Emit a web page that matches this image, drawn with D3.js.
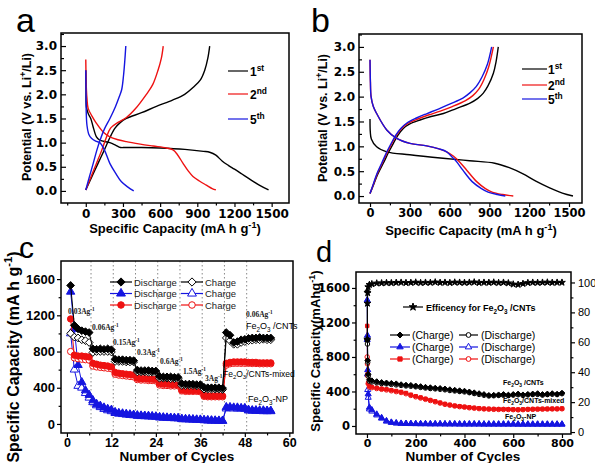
<!DOCTYPE html>
<html>
<head>
<meta charset="utf-8">
<script src="https://cdn.jsdelivr.net/npm/d3@7"></script>
<style>
  body { margin: 0; background: #fff; }
  svg { display: block; }
</style>
</head>
<body>
<svg id="fig" width="595" height="463"></svg>
<script>
// ---------- data: panel a (Fe2O3/CNTs voltage profiles) ----------
const aCap1D = [0, 2, 5, 20, 40, 59, 86, 113, 194, 240, 280, 320, 450, 600, 800, 950, 1000, 1050, 1100, 1150, 1200, 1260, 1320, 1400, 1475];
const aV1D   = [2.5, 2.1, 1.74, 1.6, 1.5, 1.33, 1.12, 1.05, 1.0, 0.95, 0.9, 0.9, 0.9, 0.89, 0.86, 0.82, 0.8, 0.74, 0.62, 0.53, 0.45, 0.35, 0.25, 0.12, 0.02];
const aCap1C = [0, 50, 99, 150, 194, 236, 280, 328, 450, 570, 700, 798, 870, 925, 960, 985, 1000];
const aV1C   = [0.02, 0.3, 0.57, 0.85, 1.1, 1.3, 1.42, 1.5, 1.62, 1.75, 1.88, 2.0, 2.15, 2.3, 2.5, 2.75, 3.0];
const aCap2D = [0, 2, 5, 10, 19, 50, 86, 140, 194, 260, 328, 440, 543, 650, 704, 740, 785, 825, 865, 920, 973, 1020, 1050];
const aV2D   = [2.72, 2.4, 2.1, 1.9, 1.71, 1.55, 1.4, 1.22, 1.12, 1.06, 1.02, 0.97, 0.93, 0.89, 0.85, 0.75, 0.57, 0.42, 0.3, 0.2, 0.12, 0.05, 0.02];
const aCap2C = [0, 40, 86, 130, 165, 200, 260, 328, 400, 489, 540, 583, 610, 625];
const aV2C   = [0.02, 0.28, 0.57, 0.85, 1.1, 1.3, 1.42, 1.52, 1.7, 2.0, 2.2, 2.5, 2.75, 3.0];
const aCap5D = [0, 2, 4, 10, 25, 46, 80, 113, 150, 194, 240, 288, 340, 387];
const aV5D   = [2.5, 2.0, 1.6, 1.35, 1.17, 1.09, 1.03, 1.0, 0.85, 0.57, 0.37, 0.19, 0.08, 0.0];
const aCap5C = [0, 30, 60, 90, 115, 150, 195, 240, 270, 290, 305, 315, 323];
const aV5C   = [0.02, 0.3, 0.57, 0.85, 1.05, 1.28, 1.5, 1.75, 1.95, 2.1, 2.4, 2.7, 3.0];

// ---------- data: panel b ----------
const bCap1D = [0, 2, 10, 50, 126, 300, 550, 750, 940, 1050, 1150, 1250, 1350, 1450, 1530];
const bV1D   = [1.55, 1.3, 1.15, 0.99, 0.89, 0.83, 0.76, 0.71, 0.66, 0.57, 0.45, 0.3, 0.17, 0.06, 0.0];
const bCap1C = [0, 30, 60, 100, 140, 176, 210, 251, 300, 377, 460, 553, 650, 754, 810, 854, 890, 930, 950, 967];
const bV1C   = [0.05, 0.25, 0.45, 0.66, 0.88, 1.06, 1.22, 1.36, 1.45, 1.53, 1.6, 1.66, 1.76, 1.87, 1.96, 2.07, 2.22, 2.47, 2.7, 3.0];
const bCap2D = [0, 3, 8, 25, 50, 126, 201, 301, 427, 520, 578, 630, 670, 729, 804, 870, 920, 1000, 1080];
const bV2D   = [2.74, 2.3, 2.0, 1.8, 1.66, 1.33, 1.16, 1.06, 1.01, 0.95, 0.89, 0.8, 0.7, 0.52, 0.29, 0.15, 0.08, 0.03, 0.0];
const bCap2C = [0, 28, 55, 92, 130, 165, 198, 238, 285, 360, 440, 530, 620, 720, 775, 820, 860, 895, 930];
const bV2C   = [0.05, 0.25, 0.45, 0.66, 0.88, 1.06, 1.22, 1.36, 1.46, 1.55, 1.63, 1.71, 1.8, 1.92, 2.02, 2.15, 2.35, 2.6, 3.0];
const bCap5D = [0, 3, 8, 25, 50, 126, 201, 301, 427, 520, 578, 620, 650, 700, 770, 840, 890, 960, 1020];
const bV5D   = [2.74, 2.3, 2.0, 1.8, 1.66, 1.33, 1.16, 1.06, 1.01, 0.95, 0.89, 0.78, 0.7, 0.52, 0.29, 0.15, 0.08, 0.03, 0.0];
const bCap5C = [0, 26, 52, 88, 125, 160, 193, 232, 278, 350, 430, 515, 600, 700, 755, 800, 845, 885, 917];
const bV5C   = [0.05, 0.25, 0.45, 0.66, 0.88, 1.06, 1.22, 1.36, 1.47, 1.57, 1.66, 1.75, 1.85, 1.97, 2.08, 2.2, 2.4, 2.65, 3.0];

const cycleLegend = [['1', 'st'], ['2', 'nd'], ['5', 'th']];

// ---------- data: panel c (rate capability) ----------
const cCycles = d3.range(1, 56);
const cCntD = [1530,1090,1050,1030,1020,1010, 830,825,830,825,830,820, 715,710,710,705,705,700, 595,590,590,590,585,585,
  525,520,520,520,515,515, 445,440,440,440,435,435, 405,400,400,400,400,395, 1010,980,900,910,930,935,945,950,950,955,950,950,950];
const cCntC = [1000,960,950,930,920,900, 790,800,800,800,800,795, 690,690,690,685,685,685, 575,575,575,570,570,570,
  505,505,505,500,500,500, 425,425,425,425,420,420, 385,385,385,385,385,380, 950,920,880,880,900,910,920,925,930,930,935,930,930];
const cMixD = [1160,760,750,750,745,740, 670,660,650,645,640,630, 570,560,555,550,545,540, 505,500,500,495,495,490,
  445,440,440,435,435,430, 375,370,370,370,370,365, 315,310,310,310,310,310, 670,680,685,685,685,685,680,680,680,675,675,675,675];
const cMixC = [800,730,720,715,710,705, 640,630,625,620,615,610, 550,540,535,530,525,520, 490,485,485,480,480,475,
  430,425,425,420,420,420, 365,360,360,360,360,355, 305,300,300,300,300,300, 650,665,670,670,670,670,670,668,668,665,665,665,665];
const cNpD = [1460,1050,650,460,370,320, 260,220,200,180,165,155, 130,120,115,110,105,100, 95,92,90,88,85,82,
  75,72,70,68,66,65, 55,53,52,50,48,47, 42,40,38,37,36,35, 185,185,180,180,175,175,155,150,150,148,148,145,145];
const cNpC = [1000,600,420,400,340,290, 240,205,185,165,150,140, 120,112,108,102,98,95, 88,86,84,82,80,78,
  70,68,66,64,62,60, 52,50,49,47,45,44, 40,38,36,35,34,33, 170,175,170,170,168,165,148,145,143,142,140,140,140];
const rateBounds = [6.5, 12.5, 18.5, 24.5, 30.5, 36.5, 42.5, 48.5];
const rateLabels = ['0.03', '0.06', '0.15', '0.3', '0.6', '1.5', '3', '0.06'];
const cLegendText = [['Discharge', 'Charge'], ['Discharge', 'Charge'], ['Discharge', 'Charge']];

// ---------- data: panel d (long cycling) ----------
const dCycles = [1,2,3,5,10,20,40,60,80,100, 120,140,160,180,200,220,240,260,280,300,
  320,340,360,380,400,420,440,460,480,500, 520,540,560,580,600,620,640,660,680,700, 720,740,760,780,800];
const dCntC = [1560,1000,760,600,535, 525,515,505,500,495, 490,480,475,472,465, 458,450,445,440,436,
  430,422,416,410,405, 396,386,376,366,356, 358,362,366,360,366, 372,362,368,372,376, 366,372,376,370,382];
const dCntD = [1000,950,740,580,520, 510,500,492,488,482, 476,470,464,460,454, 447,440,434,430,425,
  419,411,406,400,395, 386,376,366,356,348, 350,354,356,352,358, 362,354,360,364,366, 358,364,368,364,374];
const dMixC = [1160,760,600,500,460, 452,442,432,425,415, 405,395,382,362,345, 330,315,300,285,270,
  255,245,235,228,222, 215,210,205,200,198, 196,195,195,194,192, 190,192,195,196,197, 198,199,200,200,202];
const dMixD = [800,720,580,490,452, 444,434,425,418,408, 398,388,374,354,338, 324,309,295,280,265,
  251,241,231,224,218, 211,206,201,197,195, 193,192,192,191,189, 187,189,192,193,194, 195,196,197,197,199];
const dNpC = [1460,1050,650,370,215, 185,135,95,58,42, 34,30,28,27,26, 25,25,24,24,24,
  23,23,23,22,22, 22,22,22,21,21, 21,21,21,21,21, 20,20,20,20,20, 20,20,20,20,20];
const dNpD = [1000,600,420,330,195, 170,125,88,54,39, 32,28,26,25,24, 23,23,22,22,22,
  21,21,21,20,20, 20,20,20,19,19, 19,19,19,19,19, 18,18,18,18,18, 18,18,18,18,18];
const dEff = [62,86,93,97,98.5, 99,99.5,99.6,99.8,99.7, 99.9,100,99.8,99.9,100.1, 99.8,100,99.9,100.2,99.9,
  100,99.8,100.1,100,99.9, 100,100.2,99.8,100,99.9, 100.1,99.8,100,99.6,98.8, 98.6,99.2,99.8,100,99.9, 100,100.1,99.9,100,100];

// ---------- helpers ----------
const SANS = 'Liberation Sans, Arial, sans-serif';
const WIDE = 'DejaVu Sans, sans-serif';
const SERIF = 'Liberation Serif, Times New Roman, serif';
const RED = '#ee1111', BLUE = '#1515e0';

const svg = d3.select('#fig');
svg.append('rect').attr('width', 595).attr('height', 463).attr('fill', '#fff');

function rich(t, parts, fs) {
  let off = 0;
  parts.forEach(p => {
    const [s, k] = Array.isArray(p) ? p : [p, null];
    const target = k === 'sup' ? -fs * 0.42 : k === 'sub' ? fs * 0.28 : 0;
    const ts = t.append('tspan').text(s);
    if (target !== off) ts.attr('dy', target - off);
    if (k) ts.attr('font-size', fs * 0.7);
    off = target;
  });
  return t;
}

function label(x, y, parts, o = {}) {
  const fs = o.size || 12;
  const t = svg.append('text').attr('x', x).attr('y', y)
    .attr('font-family', o.font || SANS).attr('font-size', fs)
    .attr('font-weight', o.weight || 'normal').attr('fill', o.fill || '#000')
    .attr('text-anchor', o.anchor || 'start');
  if (o.rotate) t.attr('transform', `rotate(-90,${x},${y})`);
  return rich(t, parts, fs);
}

function scales(p) {
  return {
    x: d3.scaleLinear().domain(p.xd).range([p.x0, p.x1]),
    y: d3.scaleLinear().domain(p.yd).range([p.y1, p.y0])
  };
}

function box(p) {
  svg.append('rect').attr('x', p.x0).attr('y', p.y0)
    .attr('width', p.x1 - p.x0).attr('height', p.y1 - p.y0)
    .attr('fill', 'none').attr('stroke', '#000').attr('stroke-width', 1.5);
}

function axis(kind, scale, pos, major, minor, len, pad, fmt, font) {
  const mk = { bottom: d3.axisBottom, left: d3.axisLeft, right: d3.axisRight }[kind];
  const tr = kind === 'bottom' ? `translate(0,${pos})` : `translate(${pos},0)`;
  svg.append('g').attr('transform', tr)
    .call(mk(scale).tickValues(minor).tickSize(len * 0.6).tickFormat(''))
    .call(g => g.select('.domain').remove())
    .selectAll('line').attr('stroke-width', 1.2);
  const g = svg.append('g').attr('transform', tr)
    .call(mk(scale).tickValues(major).tickSize(len).tickPadding(pad).tickFormat(fmt))
    .call(g => g.select('.domain').remove());
  g.selectAll('line').attr('stroke-width', 1.2);
  g.attr('font-family', font.family).attr('font-size', font.size).attr('font-weight', font.weight || 'bold');
  return g;
}

function curve(s, xs, ys, color) {
  svg.append('path').datum(d3.zip(xs, ys))
    .attr('d', d3.line().x(d => s.x(d[0])).y(d => s.y(d[1])).curve(d3.curveCatmullRom.alpha(0.5)))
    .attr('fill', 'none').attr('stroke', color).attr('stroke-width', 1.4);
}

const diamond = {
  draw(ctx, size) {
    const r = Math.sqrt(size / 2);
    ctx.moveTo(0, -r); ctx.lineTo(r, 0); ctx.lineTo(0, r); ctx.lineTo(-r, 0); ctx.closePath();
  }
};

function series(xs, ys, sx, sy, color, sym, filled, size, lw) {
  const pts = d3.zip(xs, ys);
  svg.append('path').datum(pts)
    .attr('d', d3.line().x(d => sx(d[0])).y(d => sy(d[1])))
    .attr('fill', 'none').attr('stroke', color).attr('stroke-width', lw || 1);
  svg.append('g').selectAll('path').data(pts).join('path')
    .attr('transform', d => `translate(${sx(d[0])},${sy(d[1])})`)
    .attr('d', d3.symbol().type(sym).size(size))
    .attr('fill', filled ? color : '#fff').attr('stroke', color).attr('stroke-width', 1);
}

function legendMark(x1, x2, y, color, sym, filled, size) {
  svg.append('line').attr('x1', x1).attr('x2', x2).attr('y1', y).attr('y2', y)
    .attr('stroke', color).attr('stroke-width', 1.2);
  if (sym) {
    svg.append('path').attr('transform', `translate(${(x1 + x2) / 2},${y})`)
      .attr('d', d3.symbol().type(sym).size(size))
      .attr('fill', filled ? color : '#fff').attr('stroke', color);
  }
}

// ---------- panel a ----------
const pa = { x0: 61, x1: 289, y0: 33, y1: 203, xd: [-200, 1640], yd: [-0.25, 3.27] };
const sa = scales(pa);
axis('left', sa.y, pa.x0, d3.range(0, 3.01, 0.5), d3.range(0.25, 3.3, 0.5), -5, 4, d3.format('.1f'), { family: WIDE, size: 12 });
axis('bottom', sa.x, pa.y1, d3.range(0, 1501, 300), d3.range(-150, 1640, 300), 4, 2, d3.format('d'), { family: WIDE, size: 12 });
curve(sa, aCap1D, aV1D, '#000');
curve(sa, aCap1C, aV1C, '#000');
curve(sa, aCap2D, aV2D, RED);
curve(sa, aCap2C, aV2C, RED);
curve(sa, aCap5D, aV5D, BLUE);
curve(sa, aCap5C, aV5C, BLUE);
box(pa);
[['#000', 71], [RED, 94], [BLUE, 119]].forEach(([c, y], i) => {
  legendMark(228, 248, y, c);
  label(250, y + 5, [cycleLegend[i][0], [cycleLegend[i][1], 'sup']], { size: 12, weight: 'bold' });
});
label(31, 117, ['Potential (V vs. Li', ['+', 'sup'], '/Li)'], { size: 12.5, weight: 'bold', anchor: 'middle', rotate: true });
label(175, 233, ['Specific Capacity (mA h g', ['-1', 'sup'], ')'], { size: 13, weight: 'bold', anchor: 'middle' });
label(16, 32, ['a'], { size: 34 });

// ---------- panel b ----------
const pb = { x0: 359, x1: 582, y0: 34, y1: 203, xd: [-83, 1598], yd: [-0.14, 3.26] };
const sb = scales(pb);
axis('left', sb.y, pb.x0, d3.range(0, 3.01, 0.5), d3.range(0.25, 3.3, 0.5), -5, 4, d3.format('.1f'), { family: WIDE, size: 12 });
axis('bottom', sb.x, pb.y1, d3.range(0, 1501, 300), d3.range(150, 1600, 300), 4, 2, d3.format('d'), { family: WIDE, size: 11.5 });
curve(sb, bCap1D, bV1D, '#000');
curve(sb, bCap1C, bV1C, '#000');
curve(sb, bCap2D, bV2D, RED);
curve(sb, bCap2C, bV2C, RED);
curve(sb, bCap5D, bV5D, BLUE);
curve(sb, bCap5C, bV5C, BLUE);
box(pb);
[['#000', 69], [RED, 85], [BLUE, 99]].forEach(([c, y], i) => {
  legendMark(522, 547, y, c);
  label(548, y + 5, [cycleLegend[i][0], [cycleLegend[i][1], 'sup']], { size: 12, weight: 'bold' });
});
label(327, 118, ['Potential (V vs. Li', ['+', 'sup'], '/Li)'], { size: 12.5, weight: 'bold', anchor: 'middle', rotate: true });
label(471, 235, ['Specific Capacity (mA h g', ['-1', 'sup'], ')'], { size: 13, weight: 'bold', anchor: 'middle' });
label(311, 32, ['b'], { size: 34 });

// ---------- panel c ----------
const pc = { x0: 61, x1: 293, y0: 261, y1: 433, xd: [-1.6, 61], yd: [-100, 1800] };
const sc = scales(pc);
rateBounds.forEach(v => {
  svg.append('line').attr('x1', sc.x(v)).attr('x2', sc.x(v)).attr('y1', pc.y0).attr('y2', pc.y1)
    .attr('stroke', '#888').attr('stroke-width', 1).attr('stroke-dasharray', '1.5,2.5');
});
axis('left', sc.y, pc.x0, d3.range(0, 1601, 400), d3.range(200, 1800, 400), 4, 2, d3.format('d'), { family: SANS, size: 13 });
axis('bottom', sc.x, pc.y1, d3.range(0, 61, 12), d3.range(6, 60, 12), 4, 1, d3.format('d'), { family: SANS, size: 12.5 });
series(cCycles, cNpC, sc.x, sc.y, BLUE, d3.symbolTriangle, false, 30);
series(cCycles, cNpD, sc.x, sc.y, BLUE, d3.symbolTriangle, true, 30);
series(cCycles, cMixC, sc.x, sc.y, RED, d3.symbolCircle, false, 32);
series(cCycles, cMixD, sc.x, sc.y, RED, d3.symbolCircle, true, 32);
series(cCycles, cCntC, sc.x, sc.y, '#000', diamond, false, 30);
series(cCycles, cCntD, sc.x, sc.y, '#000', diamond, true, 30);
box(pc);
[['#000', diamond, 282], [BLUE, d3.symbolTriangle, 293.5], [RED, d3.symbolCircle, 305]].forEach(([c, sym, y], i) => {
  legendMark(110, 132, y, c, sym, true, 34);
  label(134, y + 3.5, [cLegendText[i][0]], { size: 9.5, fill: '#222' });
  legendMark(181, 203, y, c, sym, false, 34);
  label(205, y + 3.5, [cLegendText[i][1]], { size: 9.5, fill: '#222' });
});
const ratePos = [[68, 314], [92, 330], [113, 345], [137, 355], [160, 364], [183, 374], [205, 381], [246, 317]];
rateLabels.forEach((r, i) => {
  label(ratePos[i][0], ratePos[i][1], [r + 'Ag', ['-1', 'sup']], { size: 7.5, weight: 'bold', font: SERIF, fill: '#222' });
});
label(246, 329, ['Fe', ['2', 'sub'], 'O', ['3', 'sub'], ' /CNTs'], { size: 9 });
label(223, 377, ['Fe', ['2', 'sub'], 'O', ['3', 'sub'], '/CNTs-mixed'], { size: 8.5 });
label(248, 402, ['Fe', ['2', 'sub'], 'O', ['3', 'sub'], '-NP'], { size: 9 });
label(19, 357, ['Specific Capacity (mA h g', ['-1', 'sup'], ')'], { size: 16, weight: 'bold', anchor: 'middle', rotate: true });
label(177, 461, ['Number of Cycles'], { size: 13.5, weight: 'bold', anchor: 'middle' });
label(19, 258, ['c'], { size: 30 });

// ---------- panel d ----------
const pd = { x0: 356, x1: 571, y0: 272, y1: 434, xd: [-45, 837], yd: [-93, 1785] };
const sd = scales(pd);
const sdR = d3.scaleLinear().domain([-1.3, 107]).range([pd.y1, pd.y0]);
axis('left', sd.y, pd.x0, d3.range(0, 1601, 400), d3.range(200, 1800, 400), 4, 2, d3.format('d'), { family: WIDE, size: 11.5 });
axis('right', sdR, pd.x1, d3.range(0, 101, 20), d3.range(10, 100, 20), 4, 3, d3.format('d'), { family: SANS, size: 11, weight: 'normal' });
axis('bottom', sd.x, pd.y1, d3.range(0, 801, 200), d3.range(100, 800, 200), 4, 1, d3.format('d'), { family: WIDE, size: 11 });
series(dCycles, dNpD, sd.x, sd.y, BLUE, d3.symbolTriangle, false, 16);
series(dCycles, dNpC, sd.x, sd.y, BLUE, d3.symbolTriangle, true, 16);
series(dCycles, dMixD, sd.x, sd.y, RED, d3.symbolCircle, false, 16);
series(dCycles, dMixC, sd.x, sd.y, RED, d3.symbolSquare, true, 12);
series(dCycles, dCntD, sd.x, sd.y, '#000', d3.symbolCircle, false, 16);
series(dCycles, dCntC, sd.x, sd.y, '#000', diamond, true, 16);
series(dCycles, dEff, sd.x, sdR, '#000', d3.symbolStar, true, 14);
box(pd);
legendMark(403, 423, 307, '#000', d3.symbolStar, true, 18);
label(426, 311, ['Efficency for Fe', ['2', 'sub'], 'O', ['3', 'sub'], ' /CNTs'], { size: 9, weight: 'bold' });
[['#000', diamond, d3.symbolCircle, 335], [BLUE, d3.symbolTriangle, d3.symbolTriangle, 347], [RED, d3.symbolSquare, d3.symbolCircle, 359]]
  .forEach(([c, s1, s2, y]) => {
    legendMark(390, 410, y, c, s1, true, 18);
    label(412, y + 4, ['(Charge)'], { size: 10.5 });
    legendMark(459, 478, y, c, s2, false, 18);
    label(481, y + 4, ['(Discharge)'], { size: 10.5 });
  });
label(503, 385, ['Fe', ['2', 'sub'], 'O', ['3', 'sub'], ' /CNTs'], { size: 7, weight: 'bold' });
label(503, 403, ['Fe', ['2', 'sub'], 'O', ['3', 'sub'], '/CNTs-mixed'], { size: 7, weight: 'bold' });
label(505, 419, ['Fe', ['2', 'sub'], 'O', ['3', 'sub'], '-NP'], { size: 7, weight: 'bold' });
label(320, 351, ['Specific Capacity(mAhg', ['-1', 'sup'], ')'], { size: 13, weight: 'bold', anchor: 'middle', rotate: true });
label(463, 461, ['Number of Cycles'], { size: 13.5, weight: 'bold', anchor: 'middle' });
label(316, 262, ['d'], { size: 29 });
</script>
</body>
</html>
